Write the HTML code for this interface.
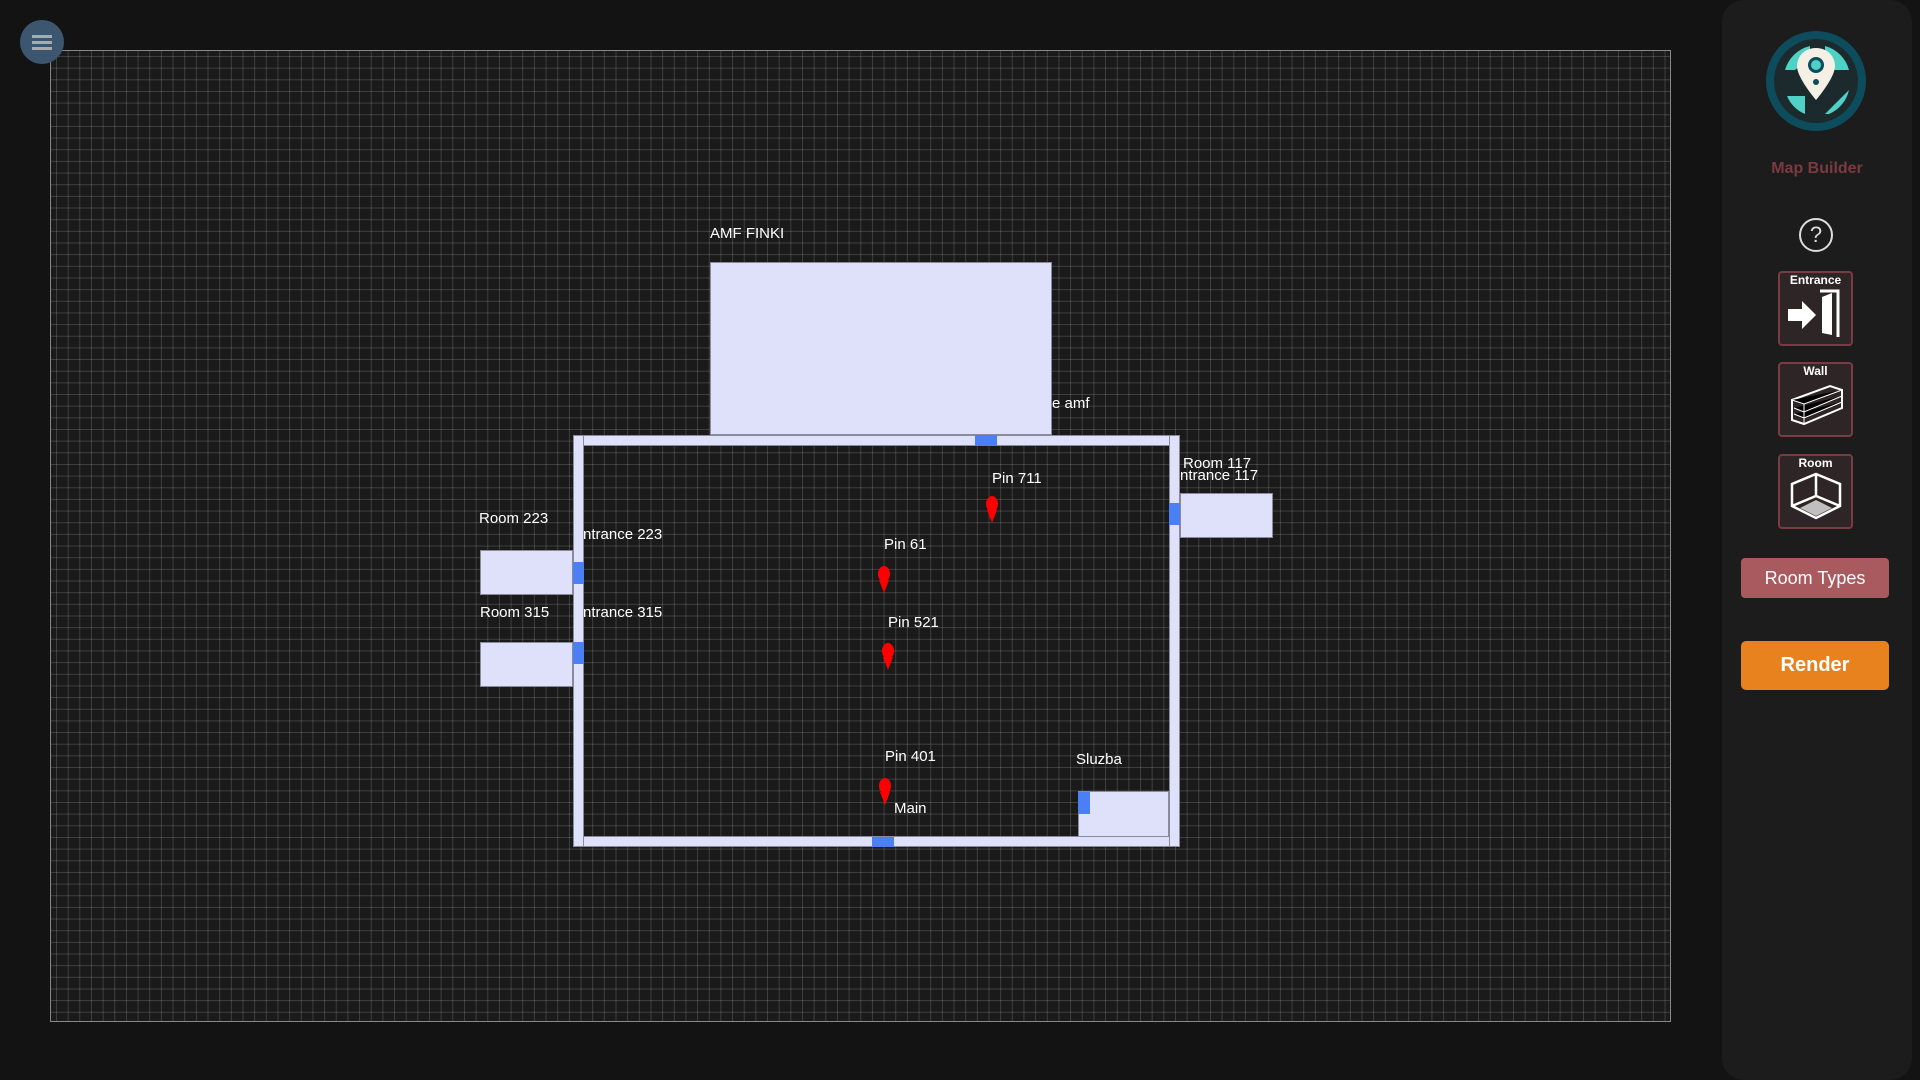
<!DOCTYPE html>
<html><head><meta charset="utf-8"><style>
body{margin:0;width:1920px;height:1080px;background:#131313;position:relative;overflow:hidden;font-family:"Liberation Sans",sans-serif}
.a{position:absolute}
#canvas{left:50px;top:50px;width:1619px;height:970px;border:1px solid #888;background-color:#1a1a1a;
background-image:linear-gradient(to right,rgba(255,255,255,.16) 1px,transparent 1px),linear-gradient(to bottom,rgba(255,255,255,.16) 1px,transparent 1px);
background-size:11.67px 11.67px;background-position:5px 5px;overflow:hidden}
.r{position:absolute;background:#dfe0fa;border:1px solid #8a8a9a;box-sizing:border-box}
.e{position:absolute;background:#4a7ff5}
.t{position:absolute;color:#fff;font-size:15px;white-space:nowrap;line-height:16px;transform:translateY(-8px)}
.pin{position:absolute;width:12px;height:27px}
.btn{position:absolute;left:1778px;width:75px;height:75px;box-sizing:border-box;border:2px solid #7a3c40;border-radius:4px;background:#2e2526;color:#fff;font-weight:bold;font-size:12px;text-align:center}
</style></head><body>
<div class="a" id="canvas"></div>
<div class="a" style="left:20px;top:20px;width:44px;height:44px;border-radius:50%;background:#3d5670">
<div class="a" style="left:12px;top:15px;width:20px;height:3px;background:#aaa"></div>
<div class="a" style="left:12px;top:21px;width:20px;height:3px;background:#aaa"></div>
<div class="a" style="left:12px;top:27px;width:20px;height:3px;background:#aaa"></div></div>

<div class="r" style="left:573px;top:435px;width:607px;height:11px"></div>
<div class="r" style="left:573px;top:836px;width:607px;height:11px"></div>
<div class="r" style="left:573px;top:435px;width:11px;height:412px"></div>
<div class="r" style="left:1169px;top:435px;width:11px;height:412px"></div>
<div class="r" style="left:710px;top:262px;width:342px;height:173px"></div>
<div class="r" style="left:480px;top:550px;width:93px;height:45px"></div>
<div class="r" style="left:480px;top:642px;width:93px;height:45px"></div>
<div class="r" style="left:1180px;top:493px;width:93px;height:45px"></div>
<div class="r" style="left:1078px;top:791px;width:91px;height:46px"></div>
<div class="e" style="left:975px;top:435px;width:22px;height:11px"></div>
<div class="e" style="left:872px;top:837px;width:22px;height:10px"></div>
<div class="e" style="left:573px;top:562px;width:11px;height:22px"></div>
<div class="e" style="left:573px;top:642px;width:11px;height:22px"></div>
<div class="e" style="left:1169px;top:503px;width:11px;height:22px"></div>
<div class="e" style="left:1078px;top:792px;width:12px;height:22px"></div>
<div class="t" style="left:710px;top:234px">AMF FINKI</div>
<div class="t" style="left:1052px;top:404px">e amf</div>
<div class="t" style="left:479px;top:519px">Room 223</div>
<div class="t" style="left:583px;top:535px">ntrance 223</div>
<div class="t" style="left:480px;top:613px">Room 315</div>
<div class="t" style="left:583px;top:613px">ntrance 315</div>
<div class="t" style="left:1183px;top:464px">Room 117</div>
<div class="t" style="left:1180px;top:476px">ntrance 117</div>
<div class="t" style="left:992px;top:479px">Pin 711</div>
<div class="t" style="left:884px;top:545px">Pin 61</div>
<div class="t" style="left:888px;top:623px">Pin 521</div>
<div class="t" style="left:885px;top:757px">Pin 401</div>
<div class="t" style="left:894px;top:809px">Main</div>
<div class="t" style="left:1076px;top:760px">Sluzba</div>
<svg class="pin" style="left:986px;top:496px" viewBox="0 0 12 27"><ellipse cx="6" cy="8" rx="6" ry="8" fill="red"/><path d="M1 14 L6 27 L11 14Z" fill="red"/></svg>
<svg class="pin" style="left:878px;top:566px" viewBox="0 0 12 27"><ellipse cx="6" cy="8" rx="6" ry="8" fill="red"/><path d="M1 14 L6 27 L11 14Z" fill="red"/></svg>
<svg class="pin" style="left:882px;top:643px" viewBox="0 0 12 27"><ellipse cx="6" cy="8" rx="6" ry="8" fill="red"/><path d="M1 14 L6 27 L11 14Z" fill="red"/></svg>
<svg class="pin" style="left:879px;top:778px" viewBox="0 0 12 27"><ellipse cx="6" cy="8" rx="6" ry="8" fill="red"/><path d="M1 14 L6 27 L11 14Z" fill="red"/></svg>

<div class="a" style="left:1722px;top:0;width:190px;height:1080px;background:#1c1c1c;border-radius:22px"></div>
<svg class="a" style="left:1765px;top:30px" width="102" height="102" viewBox="0 0 102 102">
<circle cx="51" cy="51" r="50" fill="#0d4c5c"/><circle cx="51" cy="51" r="42" fill="#1c2a2e"/>
<path d="M20 40 A34 34 0 0 1 45 16 L45 28 L30 40Z M60 16 A34 34 0 0 1 84 40 L70 40 L60 28Z M22 66 L40 66 L40 84 A34 34 0 0 1 22 66Z M60 84 L84 60 A34 34 0 0 1 64 84Z" fill="#4fd1c5"/>
<path d="M51 18 C38 18 32 28 32 36 C32 48 51 70 51 70 C51 70 70 48 70 36 C70 28 64 18 51 18Z" fill="#f5f0e6"/>
<circle cx="51" cy="35" r="8" fill="#0d4c5c"/><circle cx="51" cy="35" r="5" fill="#4fd1c5"/><circle cx="51" cy="52" r="3" fill="#0d4c5c"/>
</svg>
<div class="a" style="left:1722px;top:160px;width:190px;text-align:center;color:#7c3a40;font-weight:bold;font-size:16px">Map Builder</div>
<div class="a" style="left:1799px;top:218px;width:30px;height:30px;border:2px solid #ddd;border-radius:50%;color:#ddd;text-align:center;font-size:22px;line-height:30px">?</div>
<div class="btn" style="top:271px">Entrance<svg width="60" height="52" viewBox="0 0 60 52" style="display:block;margin:0 auto"><path d="M2 22 L16 22 L16 14 L30 28 L16 42 L16 34 L2 34Z" fill="#fff"/><path d="M34 4 L52 4 L52 50" fill="none" stroke="#fff" stroke-width="3"/><path d="M36 10 L46 6 L46 48 L36 46Z" fill="#fff"/></svg></div>
<div class="btn" style="top:362px">Wall<svg width="60" height="52" viewBox="0 0 60 52" style="display:block;margin:0 auto"><path d="M6 22 L44 8 L56 12 L56 30 L18 46 L6 42Z" fill="none" stroke="#fff" stroke-width="2"/><path d="M6 22 L18 26 L56 12 M18 26 L18 46 M8 30 L18 34 L56 18 M8 36 L18 40 L56 24" stroke="#fff" stroke-width="1"/></svg></div>
<div class="btn" style="top:454px">Room<svg width="60" height="52" viewBox="0 0 60 52" style="display:block;margin:0 auto"><path d="M30 4 L54 14 L54 36 L30 48 L6 36 L6 14Z M30 4 L30 26 M6 36 L30 26 L54 36" fill="none" stroke="#fff" stroke-width="2.5"/><path d="M14 38 L30 30 L46 38 L30 46Z" fill="#fff" opacity=".7"/></svg></div>
<div class="a" style="left:1741px;top:558px;width:148px;height:40px;background:#a85a5e;border-radius:4px;color:#fff;text-align:center;line-height:40px;font-size:18px">Room Types</div>
<div class="a" style="left:1741px;top:641px;width:148px;height:49px;background:#e8821e;border-radius:5px;color:#fff;text-align:center;line-height:49px;font-size:20px;font-weight:bold">Render</div>
</body></html>
